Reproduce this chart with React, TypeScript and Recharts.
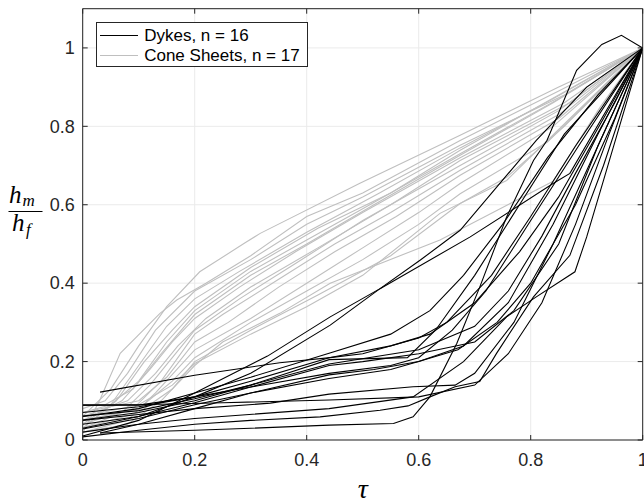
import React from 'react';
import { LineChart, Line, XAxis, YAxis, CartesianGrid, ReferenceLine, Customized } from 'recharts';

type Pt = [number, number];

// Dykes (black), n = 16 : [tau, hm/hf]
const dyke01: Pt[] = [[0.031,0.018],[0.2,0.025],[0.3,0.03],[0.44,0.038],[0.555,0.042],[0.59,0.059],[0.62,0.11],[0.668,0.246],[0.709,0.39],[0.757,0.569],[0.805,0.713],[0.829,0.764],[0.882,0.943],[0.927,1.009],[0.962,1.032],[1,1]];
const dyke02: Pt[] = [[0,0.008],[0.1,0.025],[0.2,0.04],[0.3,0.05],[0.424,0.059],[0.531,0.076],[0.581,0.087],[0.62,0.11],[0.665,0.136],[0.709,0.149],[0.739,0.221],[0.805,0.365],[0.87,0.471],[0.93,0.7],[1,1]];
const dyke03: Pt[] = [[0,0.02],[0.1,0.04],[0.2,0.055],[0.44,0.08],[0.59,0.11],[0.68,0.2],[0.757,0.314],[0.81,0.365],[0.879,0.429],[0.9,0.518],[0.93,0.662],[1,1]];
const dyke04: Pt[] = [[0,0.05],[0.1,0.065],[0.2,0.08],[0.335,0.094],[0.44,0.117],[0.59,0.136],[0.665,0.14],[0.7,0.17],[0.77,0.3],[0.84,0.5],[0.92,0.75],[1,1]];
const dyke05: Pt[] = [[0,0.028],[0.1,0.055],[0.2,0.09],[0.3,0.12],[0.44,0.157],[0.55,0.18],[0.6,0.2],[0.68,0.24],[0.76,0.35],[0.84,0.55],[0.92,0.78],[1,1]];
const dyke06: Pt[] = [[0,0.01],[0.1,0.05],[0.2,0.12],[0.33,0.214],[0.442,0.314],[0.531,0.386],[0.603,0.459],[0.674,0.535],[0.81,0.764],[0.9,0.9],[1,1]];
const dyke07: Pt[] = [[0,0.03],[0.1,0.06],[0.2,0.11],[0.3,0.17],[0.442,0.293],[0.531,0.386],[0.692,0.518],[0.84,0.654],[0.87,0.68],[1,1]];
const dyke08: Pt[] = [[0.031,0.122],[0.2,0.165],[0.352,0.197],[0.442,0.21],[0.5,0.22],[0.6,0.26],[0.65,0.3],[0.73,0.42],[0.8,0.57],[0.88,0.75],[1,1]];
const dyke09: Pt[] = [[0,0.089],[0.1,0.09],[0.25,0.095],[0.44,0.102],[0.6,0.11],[0.7,0.14],[0.76,0.22],[0.82,0.35],[0.88,0.55],[0.94,0.78],[1,1]];
const dyke10: Pt[] = [[0,0.06],[0.1,0.08],[0.2,0.12],[0.3,0.16],[0.44,0.221],[0.55,0.27],[0.62,0.33],[0.68,0.42],[0.75,0.55],[0.83,0.72],[0.92,0.88],[1,1]];
const dyke11: Pt[] = [[0,0.07],[0.1,0.085],[0.2,0.11],[0.3,0.15],[0.44,0.21],[0.55,0.24],[0.62,0.27],[0.7,0.35],[0.78,0.48],[0.85,0.62],[0.93,0.82],[1,1]];
const dyke12: Pt[] = [[0,0.051],[0.1,0.07],[0.2,0.1],[0.3,0.14],[0.44,0.205],[0.58,0.21],[0.63,0.28],[0.7,0.42],[0.78,0.6],[0.86,0.78],[1,1]];
const dyke13: Pt[] = [[0,0.061],[0.1,0.075],[0.2,0.105],[0.3,0.14],[0.44,0.194],[0.6,0.23],[0.7,0.29],[0.76,0.38],[0.82,0.52],[0.88,0.68],[0.95,0.86],[1,1]];
const dyke14: Pt[] = [[0,0.04],[0.1,0.06],[0.2,0.095],[0.3,0.135],[0.44,0.19],[0.5,0.2],[0.6,0.22],[0.7,0.25],[0.77,0.33],[0.85,0.5],[0.92,0.75],[1,1]];
const dyke15: Pt[] = [[0,0.089],[0.1,0.089],[0.2,0.11],[0.3,0.135],[0.44,0.17],[0.55,0.19],[0.6,0.21],[0.66,0.28],[0.72,0.38],[0.8,0.56],[0.89,0.76],[1,1]];
const dyke16: Pt[] = [[0.031,0.018],[0.1,0.04],[0.2,0.08],[0.3,0.12],[0.44,0.166],[0.52,0.18],[0.6,0.2],[0.67,0.23],[0.74,0.3],[0.8,0.4],[0.88,0.6],[0.95,0.82],[1,1]];

// Cone sheets (grey), n = 17
const cone01: Pt[] = [[0,0.06],[0.05,0.13],[0.1,0.24],[0.15,0.34],[0.209,0.429],[0.29,0.503],[0.317,0.527],[0.495,0.655],[0.674,0.777],[0.85,0.9],[1,1]];
const cone02: Pt[] = [[0,0.017],[0.03,0.1],[0.067,0.221],[0.138,0.323],[0.168,0.357],[0.22,0.4],[0.3,0.47],[0.4,0.57],[0.5,0.63],[0.674,0.764],[0.85,0.89],[1,1]];
const cone03: Pt[] = [[0,0.08],[0.04,0.1],[0.08,0.17],[0.13,0.28],[0.2,0.38],[0.3,0.46],[0.4,0.55],[0.5,0.62],[0.674,0.752],[0.86,0.88],[1,1]];
const cone04: Pt[] = [[0,0.04],[0.05,0.09],[0.1,0.19],[0.15,0.29],[0.2,0.36],[0.28,0.43],[0.4,0.53],[0.53,0.63],[0.674,0.745],[0.84,0.87],[1,1]];
const cone05: Pt[] = [[0,0.03],[0.06,0.1],[0.11,0.2],[0.16,0.28],[0.2,0.34],[0.3,0.44],[0.42,0.54],[0.55,0.63],[0.674,0.739],[0.85,0.88],[1,1]];
const cone06: Pt[] = [[0,0.07],[0.05,0.09],[0.1,0.15],[0.15,0.25],[0.2,0.33],[0.3,0.43],[0.4,0.51],[0.5,0.59],[0.674,0.73],[0.85,0.87],[1,1]];
const cone07: Pt[] = [[0,0.09],[0.04,0.09],[0.09,0.13],[0.14,0.22],[0.2,0.32],[0.3,0.42],[0.4,0.5],[0.52,0.6],[0.674,0.726],[0.84,0.86],[1,1]];
const cone08: Pt[] = [[0,0.05],[0.07,0.1],[0.12,0.18],[0.16,0.25],[0.2,0.31],[0.28,0.39],[0.38,0.48],[0.5,0.58],[0.674,0.72],[0.86,0.86],[1,1]];
const cone09: Pt[] = [[0,0.06],[0.08,0.1],[0.13,0.17],[0.17,0.24],[0.22,0.31],[0.3,0.39],[0.42,0.49],[0.55,0.6],[0.674,0.713],[0.87,0.86],[1,1]];
const cone10: Pt[] = [[0,0.03],[0.07,0.07],[0.12,0.14],[0.16,0.21],[0.2,0.28],[0.28,0.36],[0.38,0.45],[0.5,0.56],[0.674,0.7],[0.85,0.84],[1,1]];
const cone11: Pt[] = [[0,0.04],[0.09,0.08],[0.14,0.15],[0.2,0.27],[0.25,0.32],[0.35,0.41],[0.45,0.5],[0.55,0.58],[0.674,0.688],[0.85,0.83],[1,1]];
const cone12: Pt[] = [[0,0.07],[0.1,0.1],[0.15,0.16],[0.2,0.25],[0.26,0.3],[0.35,0.39],[0.45,0.48],[0.56,0.57],[0.674,0.675],[0.85,0.82],[1,1]];
const cone13: Pt[] = [[0,0.02],[0.08,0.05],[0.13,0.12],[0.2,0.23],[0.3,0.31],[0.4,0.4],[0.5,0.49],[0.6,0.58],[0.674,0.654],[0.84,0.8],[1,1]];
const cone14: Pt[] = [[0,0.05],[0.1,0.08],[0.16,0.15],[0.2,0.21],[0.3,0.3],[0.4,0.38],[0.5,0.46],[0.6,0.55],[0.674,0.628],[0.83,0.76],[1,1]];
const cone15: Pt[] = [[0,0.03],[0.1,0.07],[0.16,0.13],[0.2,0.2],[0.3,0.28],[0.42,0.37],[0.55,0.47],[0.674,0.603],[0.757,0.67],[0.86,0.8],[1,1]];
const cone16: Pt[] = [[0,0.06],[0.1,0.09],[0.16,0.14],[0.2,0.195],[0.3,0.27],[0.4,0.34],[0.5,0.42],[0.638,0.578],[0.757,0.662],[0.87,0.82],[1,1]];
const cone17: Pt[] = [[0,0.02],[0.08,0.04],[0.14,0.1],[0.2,0.19],[0.25,0.25],[0.352,0.323],[0.442,0.4],[0.638,0.51],[0.84,0.66],[0.924,0.849],[1,1]];

const dykes: Pt[][] = [dyke01, dyke02, dyke03, dyke04, dyke05, dyke06, dyke07, dyke08, dyke09, dyke10, dyke11, dyke12, dyke13, dyke14, dyke15, dyke16];
const cones: Pt[][] = [cone01, cone02, cone03, cone04, cone05, cone06, cone07, cone08, cone09, cone10, cone11, cone12, cone13, cone14, cone15, cone16, cone17];

const xTicks = [0, 0.2, 0.4, 0.6, 0.8, 1];
const xTickLabels = ['0', '0.2', '0.4', '0.6', '0.8', '1'];
const yTicks = [0, 0.2, 0.4, 0.6, 0.8, 1];
const yTickLabels = ['0', '0.2', '0.4', '0.6', '0.8', '1'];
const legendLabels = ['Dykes, n = 16', 'Cone Sheets, n = 17'];

const DYKE_COLOR = '#000000';
const CONE_COLOR = '#bfbfbf';
const AX = '#262626';
const GRID = '#ebebeb';
const SANS = '"Liberation Sans", Arial, Helvetica, sans-serif';
const SERIF = '"Liberation Serif", "Times New Roman", serif';

const W = 644;
const H = 504;
const PT = 8.7;     // plot top
const PRX = 642.7;  // plot right
const TICK = 5;

const toRows = (pts: Pt[]) => pts.map(([x, y]) => ({ x, y }));

const XTick = (props: any) => {
  const { x, y, payload } = props;
  const i = xTicks.indexOf(payload.value);
  return (
    <g>
      <line x1={x} x2={x} y1={y} y2={y - TICK} stroke={AX} strokeWidth={1} />
      <line x1={x} x2={x} y1={PT} y2={PT + TICK} stroke={AX} strokeWidth={1} />
      <text x={x} y={y + 26} textAnchor="middle" fontFamily={SANS} fontSize={18} fill={AX}>
        {i >= 0 ? xTickLabels[i] : payload.value}
      </text>
    </g>
  );
};

const YTick = (props: any) => {
  const { x, y, payload } = props;
  const i = yTicks.indexOf(payload.value);
  return (
    <g>
      <line x1={x} x2={x + TICK} y1={y} y2={y} stroke={AX} strokeWidth={1} />
      <line x1={PRX} x2={PRX - TICK} y1={y} y2={y} stroke={AX} strokeWidth={1} />
      <text x={x - 8} y={y} dy="0.35em" textAnchor="end" fontFamily={SANS} fontSize={18} fill={AX}>
        {i >= 0 ? yTickLabels[i] : payload.value}
      </text>
    </g>
  );
};

const AxisTitles = () => (
  <g>
    <text x={362.7} y={498} textAnchor="middle" fontFamily={SERIF} fontStyle="italic" fontSize={28} fill="#000">τ</text>
    <text x={9} y={203} fontFamily={SERIF} fontStyle="italic" fontSize={25} fill="#000">h</text>
    <text x={22.5} y={206} fontFamily={SERIF} fontStyle="italic" fontSize={17} fill="#000">m</text>
    <line x1={8.5} x2={42.5} y1={211.5} y2={211.5} stroke="#000" strokeWidth={1} />
    <text x={12} y={231} fontFamily={SERIF} fontStyle="italic" fontSize={25} fill="#000">h</text>
    <text x={26} y={235} fontFamily={SERIF} fontStyle="italic" fontSize={17} fill="#000">f</text>
  </g>
);

const LegendBox = () => (
  <div
    style={{
      position: 'absolute',
      left: 95.7,
      top: 21.7,
      width: 212.6,
      height: 45.6,
      boxSizing: 'border-box',
      border: `1px solid ${AX}`,
      background: '#fff',
      fontFamily: SANS,
      fontSize: 17,
      color: '#000',
    }}
  >
    {legendLabels.map((lab, i) => (
      <div key={lab} style={{ position: 'absolute', left: 0, top: 3 + i * 20, height: 20, width: '100%' }}>
        <div
          style={{
            position: 'absolute',
            left: 3.5,
            width: 38,
            top: 9.5,
            height: 0,
            borderTop: `1px solid ${i === 0 ? DYKE_COLOR : CONE_COLOR}`,
          }}
        />
        <span style={{ position: 'absolute', left: 47.5, top: 0, lineHeight: '20px', whiteSpace: 'nowrap' }}>{lab}</span>
      </div>
    ))}
  </div>
);

export default function App() {
  return (
    <div style={{ position: 'absolute', left: 0, top: 0, width: W, height: H, background: '#fff' }}>
      <LineChart width={W} height={H} margin={{ top: PT, right: W - PRX, bottom: 34, left: 22.7 }}>
        <CartesianGrid stroke={GRID} strokeWidth={1} />
        <XAxis
          type="number"
          dataKey="x"
          domain={[0, 1]}
          ticks={xTicks}
          interval={0}
          height={30}
          tickSize={0}
          tickMargin={0}
          tick={<XTick />}
          axisLine={{ stroke: AX, strokeWidth: 1 }}
          tickLine={false}
          allowDataOverflow
        />
        <YAxis
          type="number"
          dataKey="y"
          domain={[0, 1.1]}
          ticks={yTicks}
          interval={0}
          width={60}
          tickSize={0}
          tickMargin={0}
          tick={<YTick />}
          axisLine={{ stroke: AX, strokeWidth: 1 }}
          tickLine={false}
          allowDataOverflow
        />
        {cones.map((pts, i) => (
          <Line
            key={`c${i}`}
            data={toRows(pts)}
            dataKey="y"
            type="linear"
            stroke={CONE_COLOR}
            strokeWidth={1.1}
            dot={false}
            activeDot={false}
            isAnimationActive={false}
          />
        ))}
        {dykes.map((pts, i) => (
          <Line
            key={`d${i}`}
            data={toRows(pts)}
            dataKey="y"
            type="linear"
            stroke={DYKE_COLOR}
            strokeWidth={1.1}
            dot={false}
            activeDot={false}
            isAnimationActive={false}
          />
        ))}
        <ReferenceLine y={1.1} stroke={AX} strokeWidth={1} ifOverflow="visible" />
        <ReferenceLine x={1} stroke={AX} strokeWidth={1} ifOverflow="visible" />
        <Customized component={AxisTitles} />
      </LineChart>
      <LegendBox />
    </div>
  );
}
